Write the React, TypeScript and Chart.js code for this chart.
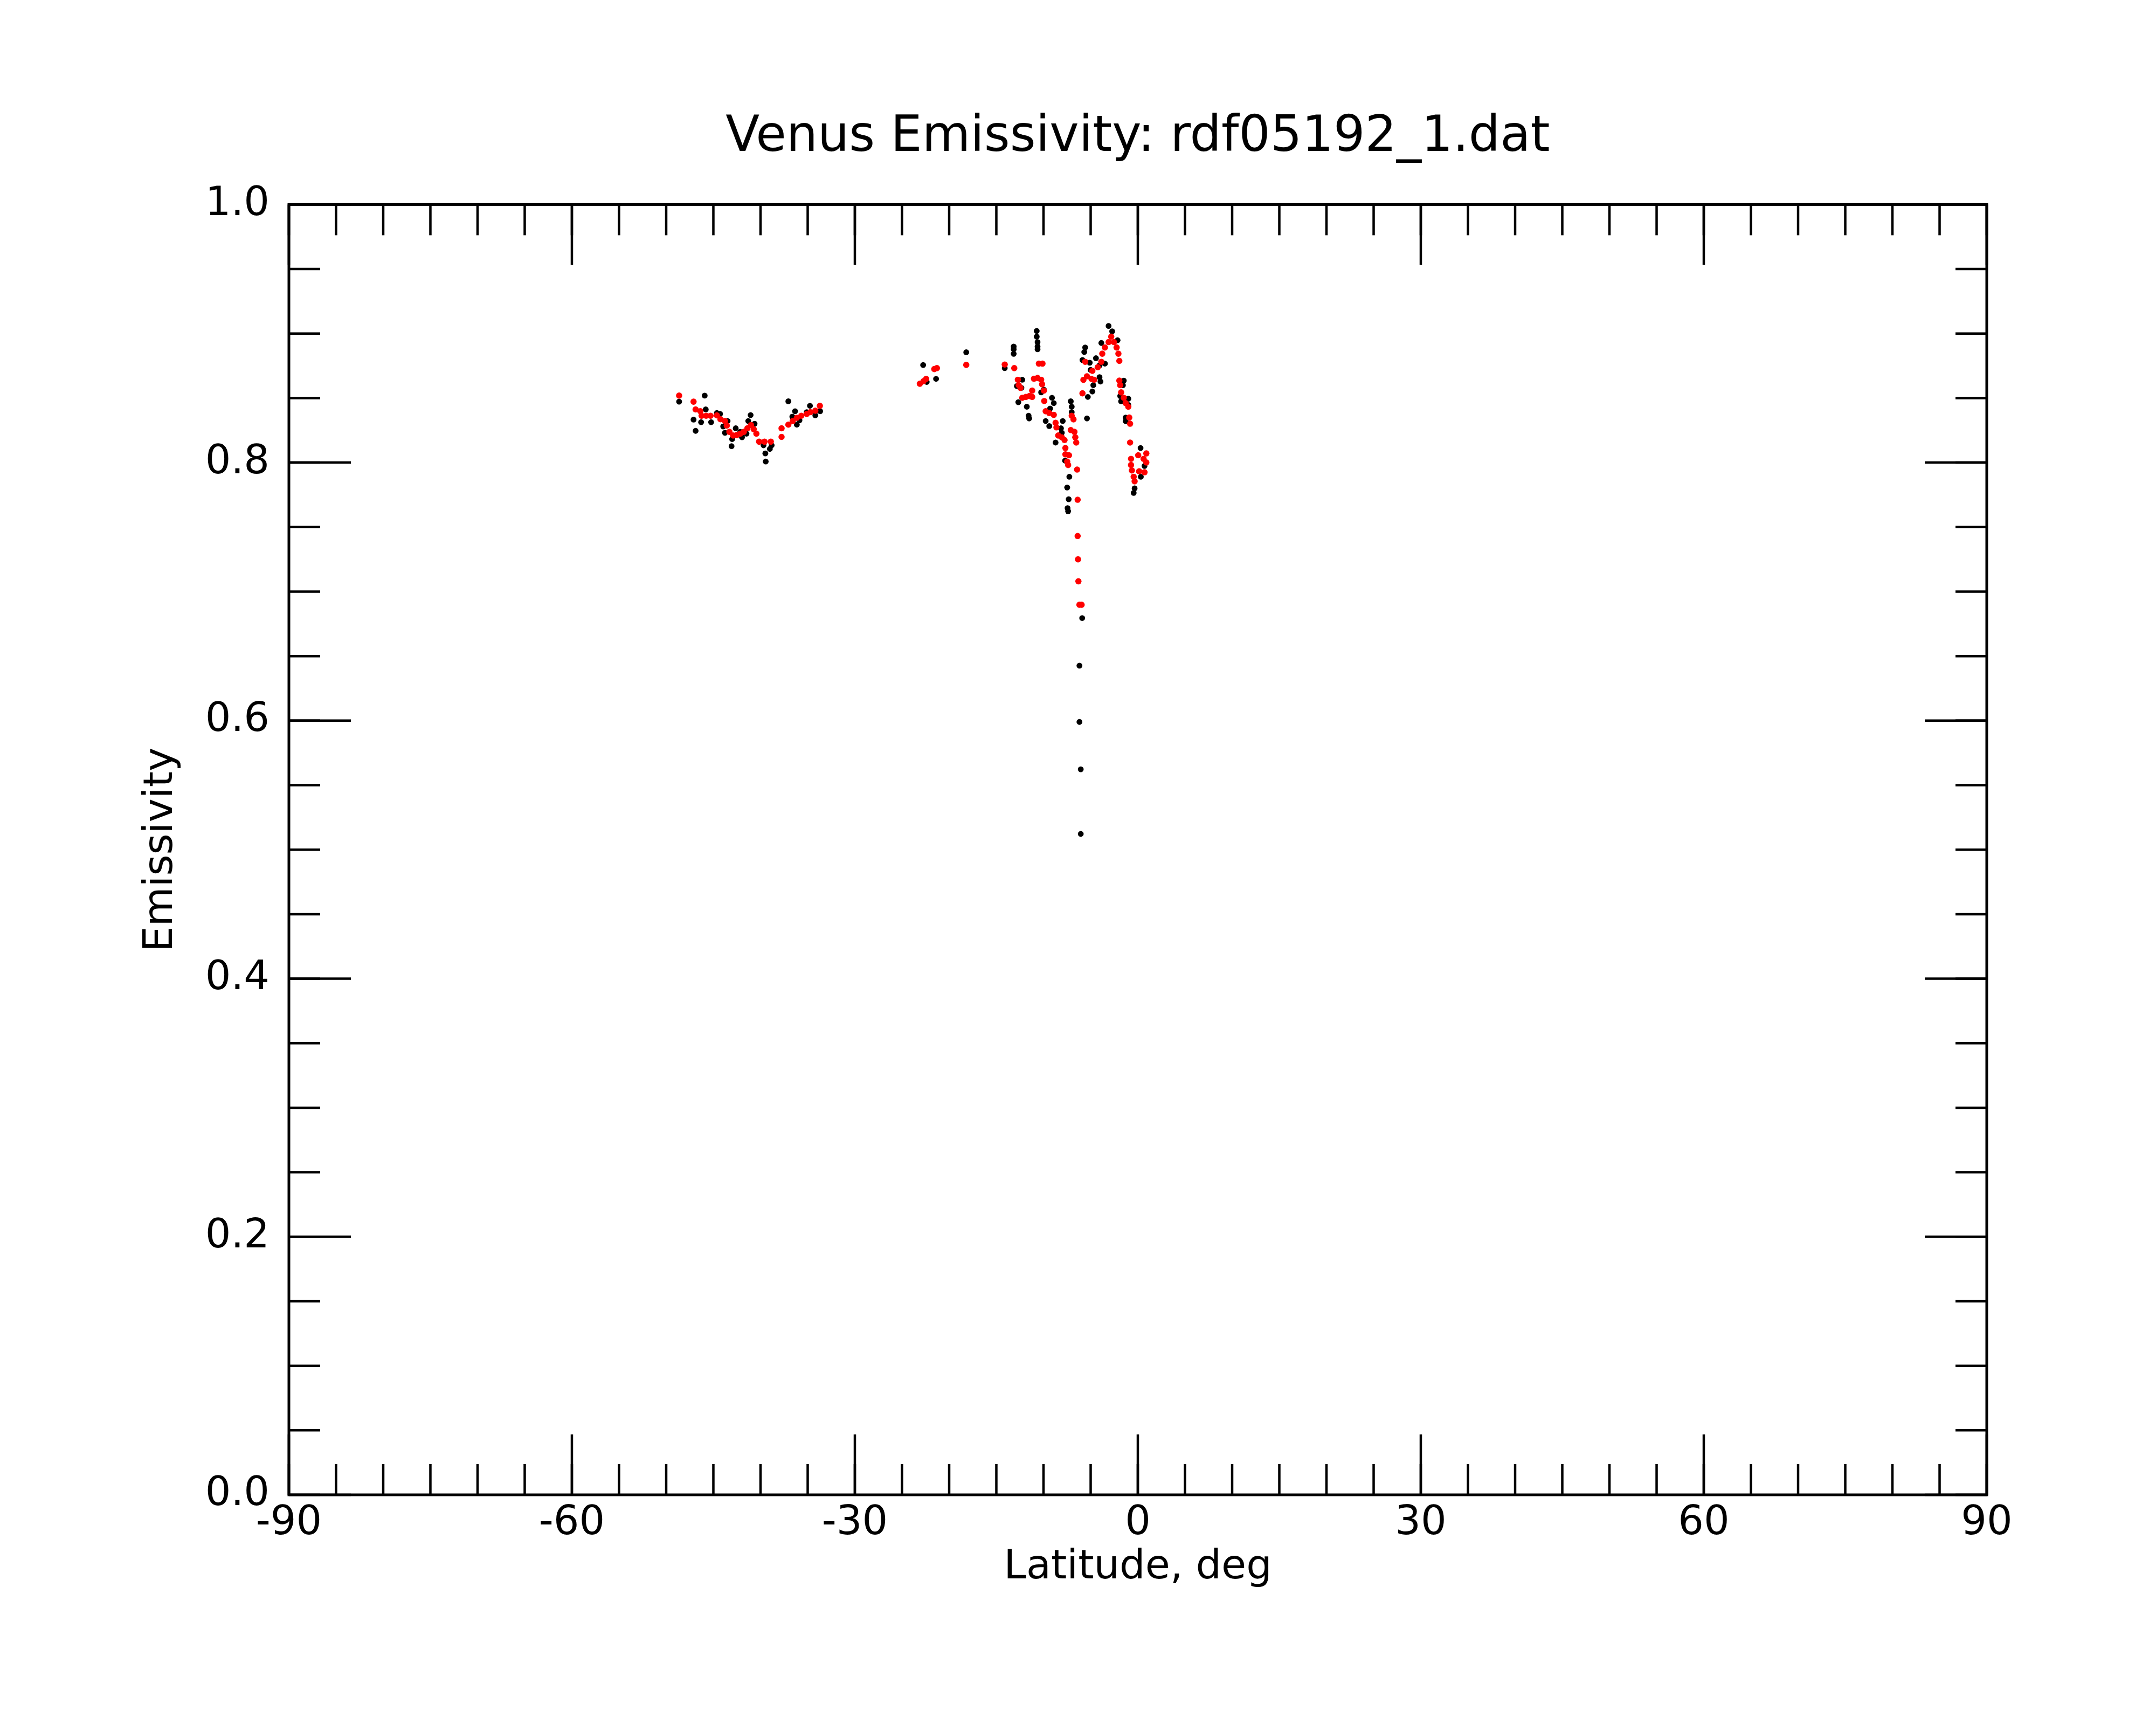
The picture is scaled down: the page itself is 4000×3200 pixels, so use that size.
import { useEffect, useRef } from 'react';
import { Chart, registerables } from 'chart.js';

Chart.register(...registerables);

// black points (all samples)
const blackLat = [
  -48.63, -45.92, -47.1, -46.88, -46.3, -45.81, -45.24, -44.63, -44.29, -43.49, -43.96, -43.77,
  -43.01, -43.07, -42.63, -42.15, -41.96, -41.49, -41.05, -41.3, -40.63, -39.68, -39.49, -39.45,
  -39.01, -38.82, -37.05, -36.34, -36.63, -36.15, -35.87, -35.1, -34.76, -34.19, -33.68,
  -22.76, -21.39, -22.38, -18.19,
  -14.11, -13.16, -13.16, -13.16, -10.72, -10.72, -10.63, -10.63, -10.63, -12.25, -12.82, -12.34,
  -12.67, -11.77, -11.58, -11.52, -10.25, -9.96, -9.1, -8.91, -9.3, -9.77, -9.39, -7.96, -8.15,
  -8.06, -8.72, -7.11, -7.01, -7.01, -5.39, -7.71, -7.26, -7.49, -7.33, -7.45, -7.39, -5.58,
  -5.68, -5.87, -5.1, -4.44, -4.06, -3.49, -5.01, -4.06, -3.96, -4.72, -4.82, -5.3, -3.87, -3.1,
  -2.72, -2.15, -1.49, -1.58, -1.87, -1.77, -1.01, -1.01, -1.29, -1.29, 0.29, 0.71, 0.32, -0.34,
  -0.44,
  -5.9, -6.19, -6.19, -6.05, -6.05,
];
const blackEm = [
  0.8472, 0.8519, 0.8333, 0.8246, 0.8313, 0.8412, 0.8313, 0.8384, 0.8377, 0.8322, 0.828, 0.8231,
  0.8182, 0.8127, 0.8266, 0.8238, 0.8196, 0.8224, 0.8368, 0.8322, 0.8301, 0.8134, 0.8071, 0.8008,
  0.8106, 0.8134, 0.8475, 0.8398, 0.8356, 0.8294, 0.8328, 0.8391, 0.844, 0.8366, 0.8398,
  0.8756, 0.8649, 0.8625, 0.8855,
  0.8732, 0.8899, 0.8878, 0.8843, 0.902, 0.8976, 0.8934, 0.8899, 0.8878, 0.8642, 0.8593, 0.8579,
  0.8468, 0.8433, 0.8363, 0.8342, 0.8544, 0.8565, 0.8502, 0.8461, 0.8419, 0.8322, 0.8283, 0.8322,
  0.8266, 0.8231, 0.8155, 0.8475, 0.8433, 0.8391, 0.8342, 0.8015, 0.789, 0.7807, 0.7716, 0.7647,
  0.7623, 0.8892, 0.8857, 0.8795, 0.8774, 0.8809, 0.8753, 0.8767, 0.8718, 0.8662, 0.8628, 0.86,
  0.8551, 0.8509, 0.8927, 0.9059, 0.9017, 0.8948, 0.8635, 0.86, 0.8516, 0.8475, 0.8495, 0.8447,
  0.8349, 0.8321, 0.8113, 0.7974, 0.789, 0.78, 0.7765,
  0.6795, 0.6426, 0.599, 0.5623, 0.5122,
];

// red points (filtered samples)
const redLat = [
  -48.63, -47.1, -46.88, -46.38, -46.25, -45.77, -45.3, -44.63, -44.25, -43.77, -43.58, -43.3,
  -42.91, -42.53, -42.15, -41.77, -41.39, -41.01, -40.72, -40.44, -40.15, -39.58, -38.91, -37.77,
  -37.77, -37.05, -36.59, -36.15, -35.68, -35.1, -34.72, -34.19, -33.71,
  -23.11, -22.72, -22.44, -21.58, -21.3, -18.19,
  -14.11, -13.1, -12.72, -12.63, -12.44, -12.25, -11.87, -11.49, -11.2, -11.2, -11.01, -10.63,
  -10.25, -10.15, -10.49, -10.11, -9.96, -9.92, -9.77, -9.39, -8.91, -8.72, -8.63, -8.44, -8.06,
  -7.77, -7.68, -7.68, -7.3, -7.49, -7.39, -6.44, -6.38, -7.01, -6.82, -7.11, -6.72, -6.63,
  -6.53, -5.87, -5.77, -5.39, -4.91, -4.63, -5.58, -4.82, -4.25, -3.87, -3.77, -3.49, -3.1,
  -2.82, -2.53, -2.25, -2.06, -1.96, -1.96, -1.87, -1.77, -1.49, -1.29, -1.01, -0.91, -0.82,
  -0.82, -0.72, -0.72, -0.63, -0.44, -0.34, 0.04, 0.61, 0.9, 0.9, 0.71, 0.14,
  -6.38, -6.34, -6.3, -6.19, -5.96,
];
const redEm = [
  0.8519, 0.8472, 0.8412, 0.8398, 0.8363, 0.8363, 0.8363, 0.8366, 0.8336, 0.8322, 0.8287, 0.8238,
  0.821, 0.8213, 0.8224, 0.8238, 0.8266, 0.8291, 0.8259, 0.8224, 0.8162, 0.8162, 0.8162, 0.8199,
  0.8266, 0.8294, 0.8322, 0.8347, 0.8363, 0.8377, 0.8391, 0.8402, 0.844,
  0.8611, 0.8631, 0.8649, 0.8725, 0.8732, 0.8757,
  0.876, 0.8732, 0.8642, 0.86, 0.8579, 0.8502, 0.8509, 0.8516, 0.8509, 0.8558, 0.865, 0.8656,
  0.8642, 0.8607, 0.8767, 0.8767, 0.8558, 0.8477, 0.8398, 0.8384, 0.837, 0.8308, 0.8273, 0.821,
  0.8196, 0.8175, 0.8113, 0.8064, 0.8057, 0.8008, 0.7981, 0.7946, 0.7712, 0.8363, 0.8335, 0.8252,
  0.8238, 0.8196, 0.8155, 0.8537, 0.8641, 0.8669, 0.8648, 0.8642, 0.8781, 0.8711, 0.8739, 0.8781,
  0.8844, 0.8892, 0.8934, 0.8976, 0.8934, 0.8892, 0.8844, 0.8788, 0.8635, 0.86, 0.8544, 0.8502,
  0.8461, 0.8433, 0.8349, 0.8301, 0.8155, 0.8029, 0.7981, 0.7939, 0.789, 0.7855, 0.8057, 0.8029,
  0.8071, 0.8001, 0.7925, 0.7932,
  0.7431, 0.725, 0.708, 0.6898, 0.6898,
];

const xMajorTicks = [-90, -60, -30, 0, 30, 60, 90];
const xTickLabels = ['-90', '-60', '-30', '0', '30', '60', '90'];
const yMajorTicks = [0, 0.2, 0.4, 0.6, 0.8, 1.0];
const yTickLabels = ['0.0', '0.2', '0.4', '0.6', '0.8', '1.0'];
const xMinorStep = 5;
const yMinorStep = 0.05;

const FONT = 'DejaVu Sans';

// inward ticks on all four sides plus the box
const frameTicks = {
  id: 'frameTicks',
  afterDatasetsDraw(chart: any) {
    const { ctx, chartArea: a, scales } = chart;
    const sx = scales.x;
    const sy = scales.y;
    const line = (x1: number, y1: number, x2: number, y2: number) => {
      ctx.beginPath();
      ctx.moveTo(x1, y1);
      ctx.lineTo(x2, y2);
      ctx.stroke();
    };
    ctx.save();
    ctx.strokeStyle = '#000';
    ctx.lineCap = 'butt';
    ctx.lineWidth = 4.5;
    for (let v = sx.min; v <= sx.max + 1e-9; v += xMinorStep) {
      const p = sx.getPixelForValue(v);
      line(p, a.bottom, p, a.bottom - 57);
      line(p, a.top, p, a.top + 57);
    }
    for (let v = sy.min; v <= sy.max + 1e-9; v += yMinorStep) {
      const p = sy.getPixelForValue(v);
      line(a.left, p, a.left + 58, p);
      line(a.right, p, a.right - 58, p);
    }
    xMajorTicks.forEach((v) => {
      const p = sx.getPixelForValue(v);
      line(p, a.bottom, p, a.bottom - 112);
      line(p, a.top, p, a.top + 112);
    });
    yMajorTicks.forEach((v) => {
      const p = sy.getPixelForValue(v);
      line(a.left, p, a.left + 115, p);
      line(a.right, p, a.right - 115, p);
    });
    ctx.lineWidth = 5;
    ctx.strokeRect(a.left, a.top, a.right - a.left, a.bottom - a.top);
    ctx.restore();
  },
};

export default function App() {
  const canvasRef = useRef<HTMLCanvasElement | null>(null);

  useEffect(() => {
    if (!canvasRef.current) return;
    const ctx = canvasRef.current.getContext('2d');
    if (!ctx) return;
    const chart = new Chart(ctx, {
      type: 'scatter',
      data: {
        datasets: [
          {
            label: 'filtered',
            data: redLat.map((x, i) => ({ x, y: redEm[i] })),
            backgroundColor: '#ff0000',
            pointRadius: 5.8,
            pointBorderWidth: 0,
          },
          {
            label: 'raw',
            data: blackLat.map((x, i) => ({ x, y: blackEm[i] })),
            backgroundColor: '#000000',
            pointRadius: 5.4,
            pointBorderWidth: 0,
          },
        ],
      },
      options: {
        animation: false,
        responsive: false,
        devicePixelRatio: 1,
        layout: { padding: { top: 0, left: 0, right: 314, bottom: 246 } },
        plugins: {
          legend: { display: false },
          tooltip: { enabled: false },
          title: {
            display: true,
            fullSize: false,
            text: 'Venus Emissivity: rdf05192_1.dat',
            color: '#000',
            font: { family: FONT, size: 92, weight: 'normal' },
            padding: { top: 201, bottom: 68 },
          },
        },
        scales: {
          x: {
            type: 'linear',
            position: 'bottom',
            min: -90,
            max: 90,
            grid: { display: false, drawTicks: false },
            border: { display: false },
            afterBuildTicks: (s: any) => {
              s.ticks = xMajorTicks.map((value) => ({ value }));
            },
            afterFit: (s: any) => {
              s.height = 181;
            },
            ticks: {
              padding: 9,
              color: '#000',
              maxRotation: 0,
              autoSkip: false,
              font: { family: FONT, size: 75 },
              callback: (_v: any, i: number) => xTickLabels[i],
            },
            title: {
              display: true,
              text: 'Latitude, deg',
              color: '#000',
              font: { family: FONT, size: 75 },
              padding: { top: 0, bottom: 0 },
            },
          },
          y: {
            type: 'linear',
            position: 'left',
            min: 0,
            max: 1,
            grid: { display: false, drawTicks: false },
            border: { display: false },
            afterBuildTicks: (s: any) => {
              s.ticks = yMajorTicks.map((value) => ({ value }));
            },
            afterFit: (s: any) => {
              s.width = 536;
            },
            ticks: {
              padding: 36,
              color: '#000',
              autoSkip: false,
              font: { family: FONT, size: 75 },
              callback: (_v: any, i: number) => yTickLabels[i],
            },
            title: {
              display: true,
              text: 'Emissivity',
              color: '#000',
              font: { family: FONT, size: 75 },
              padding: { top: 255, bottom: 0 },
            },
          },
        },
      },
      plugins: [frameTicks],
    });
    return () => chart.destroy();
  }, []);

  return (
    <div style={{ position: 'absolute', left: 0, top: 0, width: 4000, height: 3200, background: '#fff' }}>
      <canvas ref={canvasRef} width={4000} height={3200} style={{ width: 4000, height: 3200 }} />
    </div>
  );
}
